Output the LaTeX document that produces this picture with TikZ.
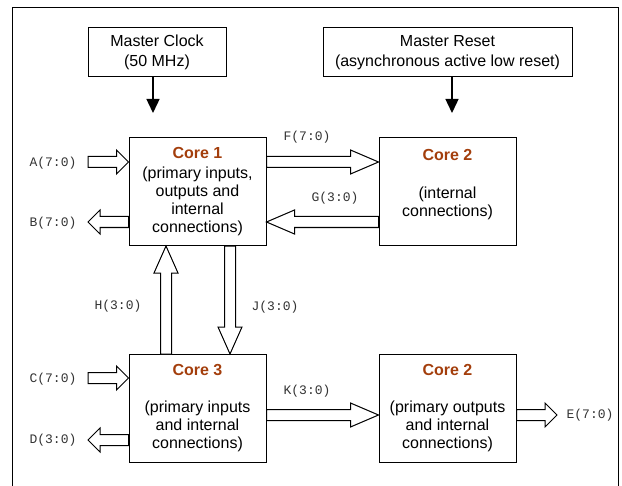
\documentclass[tikz,border=0pt]{standalone}
\usepackage{fontspec}
\setmainfont{Liberation Sans}
\newfontfamily\busfont{Liberation Mono}
\usetikzlibrary{calc,arrows.meta}
\definecolor{corered}{RGB}{163,62,12}
\newcommand\coretitle[1]{\textcolor{corered}{\bfseries #1}}
\def\fatarrow[#1](#2)(#3){\draw[fill=white,line width=1bp] let \p1=(#2), \p2=(#3), \n1={atan2(\y2-\y1,\x2-\x1)}, \n2={veclen(\x2-\x1,\y2-\y1)} in [shift={(\p1)},rotate=\n1] (0bp,-5.5bp) -- (\n2-#1,-5.5bp) -- (\n2-#1,-12bp) -- (\n2,0bp) -- (\n2-#1,12bp) -- (\n2-#1,5.5bp) -- (0bp,5.5bp) -- cycle;}

\begin{document}
\begin{tikzpicture}[x=1bp,y=-1bp,
	box/.style={draw,line width=1bp,inner sep=0pt,align=center,font=\fontsize{16bp}{18bp}\selectfont},
	core/.style={box,minimum width=137bp,minimum height=108bp},
	bus/.style={font=\busfont\fontsize{13bp}{15bp}\selectfont,text=black!80},
	sig/.style={line width=1.4bp,-{Triangle[width=13bp,length=14bp]}}]
	\useasboundingbox (0,0) rectangle (622,486);
	\draw[line width=1bp] (12.5,486) -- (12.5,7.5) -- (618,7.5) -- (618,486);
	
	\node[box,minimum width=138bp,minimum height=49bp] (clock) at (157,52.5) {Master Clock\\[2bp](50 MHz)};
	\node[box,minimum width=249bp,minimum height=49bp] (reset) at (447.5,52.5) {Master Reset\\[2bp](asynchronous active low reset)};
	\coordinate (clk) at (153,113);
	\coordinate (rst) at (452,113);
	\draw[sig] (clk |- clock.south) -- (clk);
	\draw[sig] (rst |- reset.south) -- (rst);
	
	\node[core] (core1) at (197.5,191.5) {\coretitle{Core 1}\\[2bp](primary inputs,\\outputs and\\internal\\connections)};
	\node[core] (core2) at (447.5,191.5) {\coretitle{Core 2}\\[20bp](internal\\connections)\\\mbox{}};
	\node[core] (core3) at (197.5,408.5) {\coretitle{Core 3}\\[19bp](primary inputs\\and internal\\connections)};
	\node[core] (core4) at (447.5,408.5) {\coretitle{Core 2}\\[19bp](primary outputs\\and internal\\connections)};
	
	\coordinate (ain) at (88,162);
	\coordinate (bout) at (88,222);
	\coordinate (cin) at (88,378);
	\coordinate (dout) at (88,440);
	\coordinate (eout) at (557,415);
	\coordinate (hbus) at (166,300);
	\coordinate (jbus) at (230,300);
	
	\fatarrow[12bp](ain)(ain -| core1.west)
	\fatarrow[12bp](bout -| core1.west)(bout)
	\fatarrow[28bp](ain -| core1.east)(ain -| core2.west)
	\fatarrow[28bp](bout -| core2.west)(bout -| core1.east)
	\fatarrow[27bp](hbus |- core3.north)(hbus |- core1.south)
	\fatarrow[27bp](jbus |- core1.south)(jbus |- core3.north)
	\fatarrow[12bp](cin)(cin -| core3.west)
	\fatarrow[12bp](dout -| core3.west)(dout)
	\fatarrow[28bp](eout -| core3.east)(eout -| core4.west)
	\fatarrow[12bp](eout -| core4.east)(eout)
	
	\node[bus] (a) at (53,163) {A(7:0)};
	\node[bus] (b) at (53,223) {B(7:0)};
	\node[bus] (c) at (53,379) {C(7:0)};
	\node[bus] (d) at (53,440) {D(3:0)};
	\node[bus] (e) at (590,415) {E(7:0)};
	\node[bus] (f) at (307,137) {F(7:0)};
	\node[bus] (g) at (335,198) {G(3:0)};
	\node[bus] (h) at (118,306) {H(3:0)};
	\node[bus] (j) at (275,307) {J(3:0)};
	\node[bus] (k) at (307,391) {K(3:0)};
\end{tikzpicture}
\end{document}
